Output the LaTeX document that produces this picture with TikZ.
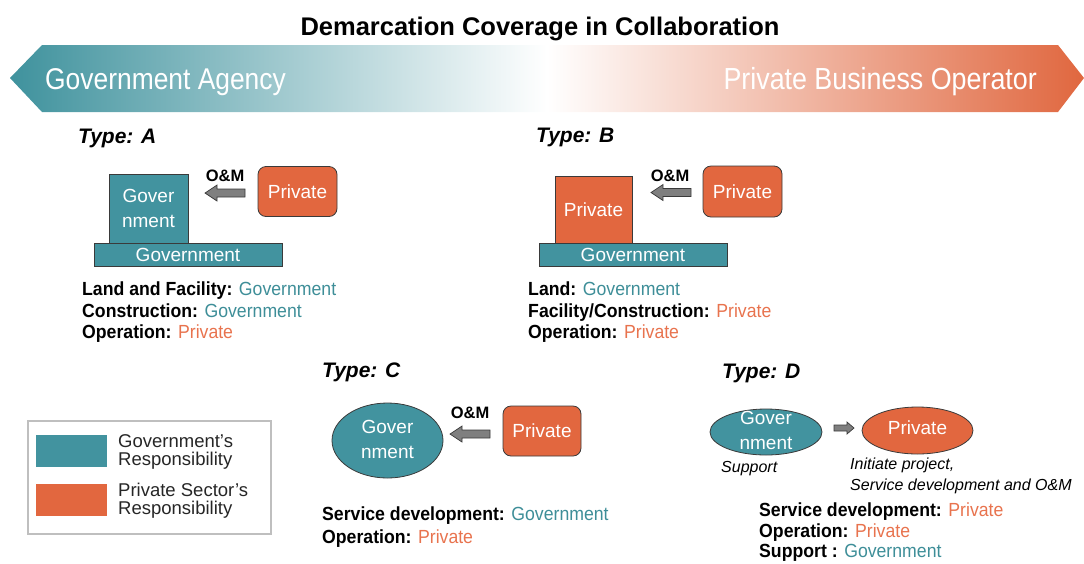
\documentclass[tikz,border=0pt]{standalone}
\usepackage{fontspec}
\setmainfont{Liberation Sans}
\newfontfamily\condfont[FakeStretch=0.93]{Liberation Sans}
\newfontfamily\bannerfont[FakeStretch=0.88]{Liberation Sans}
\usetikzlibrary{shapes.geometric}
\definecolor{tealc}{HTML}{42939F}
\definecolor{orangec}{HTML}{E2673F}
\definecolor{edgec}{HTML}{3A3A3A}
\definecolor{govtxt}{HTML}{3E8E98}
\definecolor{privtxt}{HTML}{E8734E}
\definecolor{bantl}{HTML}{3F929D}
\definecolor{bantr}{HTML}{E0673F}
\definecolor{arrgray}{HTML}{7F7F7F}
\definecolor{legedge}{HTML}{BFBFBF}
\newcommand\govtx[1]{{\color{govtxt}#1}}
\newcommand\privtx[1]{{\color{privtxt}#1}}
\tikzset{
  shapebase/.style={draw=edgec, line width=0.8pt, text=white, inner sep=0pt, align=center,
    font=\fontsize{19}{25}\selectfont},
  govbox/.style={shapebase, fill=tealc, rectangle},
  privbox/.style={shapebase, fill=orangec, rectangle},
  rbox/.style={privbox, rounded corners=8pt},
  govell/.style={shapebase, fill=tealc, ellipse},
  privell/.style={shapebase, fill=orangec, ellipse},
  intext/.style={text=white, inner sep=0pt, align=center, font=\fontsize{19}{25}\selectfont},
  typelab/.style={anchor=base west, inner sep=0pt, font=\bfseries\itshape\fontsize{21}{24}\selectfont},
  omlab/.style={anchor=base, inner sep=0pt, font=\bfseries\fontsize{16.5}{18}\selectfont},
  lab/.style={anchor=base west, inner sep=0pt, font=\condfont\fontsize{19}{22}\selectfont},
  note/.style={anchor=base west, inner sep=0pt, font=\itshape\fontsize{16}{18}\selectfont},
  legtext/.style={anchor=base west, inner sep=0pt, font=\fontsize{18.5}{20}\selectfont, text=black!85},
  blockarr/.style={draw=edgec, line width=0.7pt, fill=arrgray},
  omarrow/.pic={\draw[blockarr] (0,0) -- (12,-8) -- (12,-4) -- (40,-4) -- (40,4) -- (12,4) -- (12,8) -- cycle;},
}
\begin{document}
\begin{tikzpicture}[x=1pt,y=-1pt]
\useasboundingbox (0,0) rectangle (1084,563);
% title
\node[anchor=base, inner sep=0pt, font=\bfseries\fontsize{25.5}{28}\selectfont] (title) at (540,35) {Demarcation Coverage in Collaboration};
% banner
\shade[left color=bantl, right color=bantr, middle color=white]
  (10,78) -- (42,45) -- (1058,45) -- (1084,78) -- (1058,112) -- (42,112) -- cycle;
\node[anchor=base west, inner sep=0pt, text=white, font=\bannerfont\fontsize{30}{32}\selectfont] (gagency) at (45,89) {Government Agency};
\node[anchor=base east, inner sep=0pt, text=white, font=\bannerfont\fontsize{30.5}{32}\selectfont] (pbo) at (1037,89) {Private Business Operator};

% ---------- Type A
\node[typelab] (ta) at (78,143) {Type: A};
\node[govbox, minimum width=188pt, minimum height=23pt] (abase) at (188,254.5) {Government};
\node[govbox, minimum width=79pt, minimum height=69pt] (agov) at (148.5,208.5) {Gover\\nment};
\node[rbox, minimum width=79pt, minimum height=50pt] (apriv) at (297.5,191.5) {Private};
\pic at (205,193) {omarrow};
\node[omlab] (aom) at (225,181) {O\&M};
\node[lab] (al1) at (82,295) {\textbf{Land and Facility:} \govtx{Government}};
\node[lab] (al2) at (82,317) {\textbf{Construction:} \govtx{Government}};
\node[lab] (al3) at (82,338) {\textbf{Operation:} \privtx{Private}};

% ---------- Type B
\node[typelab] (tb) at (536,142) {Type: B};
\node[govbox, minimum width=188pt, minimum height=23pt] (bbase) at (633,254.5) {Government};
\node[privbox, minimum width=77pt, minimum height=67pt] (bpriv) at (593.5,209.5) {Private};
\node[rbox, minimum width=79pt, minimum height=51pt] (bpriv2) at (742.5,191.5) {Private};
\pic at (651,192.5) {omarrow};
\node[omlab] (bom) at (670,181) {O\&M};
\node[lab] (bl1) at (528,295) {\textbf{Land:} \govtx{Government}};
\node[lab] (bl2) at (528,317) {\textbf{Facility/Construction:} \privtx{Private}};
\node[lab] (bl3) at (528,338) {\textbf{Operation:} \privtx{Private}};

% ---------- Type C
\node[typelab] (tc) at (322,377) {Type: C};
\node[govell, minimum width=111pt, minimum height=75pt] (cgov) at (387.5,440.5) {};
\node[intext] (cgovt) at (387.5,439.5) {Gover\\nment};
\node[rbox, minimum width=78pt, minimum height=50pt] (cpriv) at (542,431) {Private};
\pic at (450,434) {omarrow};
\node[omlab] (com) at (470,418) {O\&M};
\node[lab] (cl1) at (322,520) {\textbf{Service development:} \govtx{Government}};
\node[lab] (cl2) at (322,543) {\textbf{Operation:} \privtx{Private}};

% ---------- Type D
\node[typelab] (td) at (722,378) {Type: D};
\node[govell, minimum width=112pt, minimum height=46pt] (dgov) at (766,432) {};
\node[intext] (dgovt) at (766,430) {Gover\\nment};
\node[privell, minimum width=111pt, minimum height=47pt] (dpriv) at (917.5,430.5) {};
\node[intext] (dprivt) at (917.5,427.5) {Private};
\draw[blockarr] (854,428) -- (847,422) -- (847,425) -- (834,425) -- (834,431) -- (847,431) -- (847,434) -- cycle;
\node[note] (dsup) at (721,472) {Support};
\node[note] (dini1) at (850,469) {Initiate project,};
\node[note] (dini2) at (850,490) {Service development and O\&M};
\node[lab] (dl1) at (759,516) {\textbf{Service development:} \privtx{Private}};
\node[lab] (dl2) at (759,537) {\textbf{Operation:} \privtx{Private}};
\node[lab] (dl3) at (759,557) {\textbf{Support :} \govtx{Government}};

% ---------- Legend
\node[draw=legedge, line width=1.2pt, minimum width=243pt, minimum height=113pt, inner sep=0pt] (legbox) at (149.5,477.5) {};
\node[fill=tealc, minimum width=71pt, minimum height=32pt, inner sep=0pt] (legg) at (71.5,451) {};
\node[fill=orangec, minimum width=71pt, minimum height=32pt, inner sep=0pt] (legp) at (71.5,500) {};
\node[legtext] (lg1) at (118,447) {Government's};
\node[legtext] (lg2) at (118,465) {Responsibility};
\node[legtext] (lp1) at (118,496) {Private Sector's};
\node[legtext] (lp2) at (118,514) {Responsibility};
\end{tikzpicture}
\end{document}
